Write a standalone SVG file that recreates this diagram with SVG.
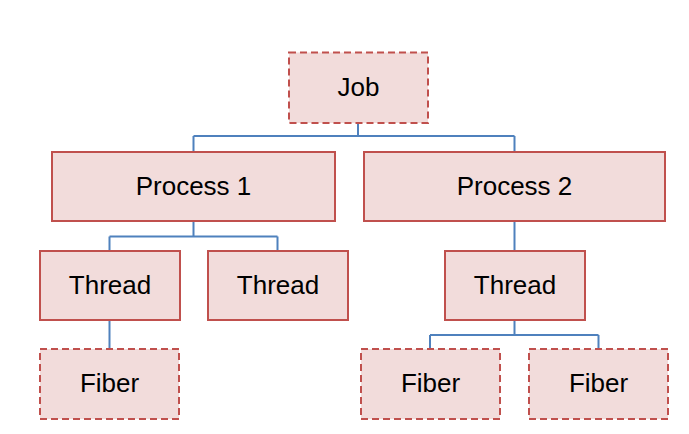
<svg xmlns="http://www.w3.org/2000/svg" width="689" height="434" viewBox="0 0 689 434">
<style>
.box{fill:#F2DCDB;stroke:#C0504D;stroke-width:2}
.dash{stroke-dasharray:7 4}
.lbl{font-family:"Liberation Sans",Arial,sans-serif;font-size:26px;fill:#000;text-anchor:middle}
.conn{fill:none;stroke:#4F81BD;stroke-width:2}
</style>
<rect width="689" height="434" fill="#fff"/>
<g id="connectors">
<path class="conn" d="M358,123V136M193.5,136H514.5M193.5,136V152M514.5,136V152"/>
<path class="conn" d="M193.5,221V236.5M109.5,236.5H277.5M109.5,236.5V251M277.5,236.5V251"/>
<path class="conn" d="M514.5,221V251"/>
<path class="conn" d="M109.5,320V349"/>
<path class="conn" d="M514.5,320V335M430,335H598.5M430,335V349M598.5,335V349"/>
</g>
<g id="job"><rect class="box dash" x="289" y="52.5" width="139" height="70.5"/><text class="lbl" x="358.5" y="96">Job</text></g>
<g id="process1"><rect class="box" x="52" y="152" width="283" height="69"/><text class="lbl" x="193.5" y="195">Process 1</text></g>
<g id="process2"><rect class="box" x="364" y="152" width="301" height="69"/><text class="lbl" x="514.5" y="195">Process 2</text></g>
<g id="thread1"><rect class="box" x="40" y="251" width="140" height="69"/><text class="lbl" x="110" y="293.5">Thread</text></g>
<g id="thread2"><rect class="box" x="208" y="251" width="140" height="69"/><text class="lbl" x="278" y="293.5">Thread</text></g>
<g id="thread3"><rect class="box" x="445" y="251" width="140" height="69"/><text class="lbl" x="515" y="293.5">Thread</text></g>
<g id="fiber1"><rect class="box dash" x="40" y="349" width="139" height="70"/><text class="lbl" x="109.5" y="392">Fiber</text></g>
<g id="fiber2"><rect class="box dash" x="361" y="349" width="139" height="70"/><text class="lbl" x="430.5" y="392">Fiber</text></g>
<g id="fiber3"><rect class="box dash" x="529" y="349" width="139" height="70"/><text class="lbl" x="598.5" y="392">Fiber</text></g>
</svg>
